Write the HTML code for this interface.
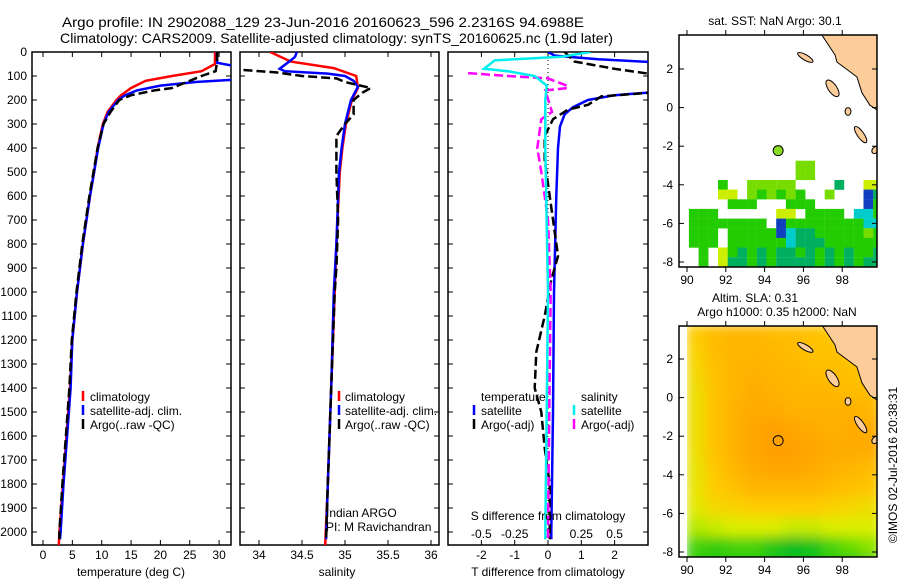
<!DOCTYPE html>
<html><head><meta charset="utf-8"><style>
body{margin:0;background:#fff}
svg{display:block}
text{font-family:"Liberation Sans",sans-serif;font-size:12px;fill:#000}
</style></head><body>
<svg id="c" width="900" height="580" xmlns="http://www.w3.org/2000/svg">
<defs>
<clipPath id="cp1"><rect x="32" y="52" width="199" height="493"/></clipPath>
<clipPath id="cp2"><rect x="240" y="52" width="199" height="493"/></clipPath>
<clipPath id="cp3"><rect x="448" y="52" width="200" height="493"/></clipPath>
<clipPath id="cm1"><rect x="679" y="35" width="198" height="232"/></clipPath>
<clipPath id="cm2"><rect x="679" y="326" width="198" height="231"/></clipPath>
<filter id="blur" x="-5%" y="-5%" width="110%" height="110%"><feGaussianBlur stdDeviation="6"/></filter>
</defs>
<text x="62" y="27" style="font-size:14px" textLength="522" lengthAdjust="spacingAndGlyphs">Argo profile: IN 2902088_129 23-Jun-2016 20160623_596 2.2316S 94.6988E</text>
<text x="60" y="43" style="font-size:14px" textLength="553" lengthAdjust="spacingAndGlyphs">Climatology: CARS2009. Satellite-adjusted climatology: synTS_20160625.nc (1.9d later)</text>
<text x="775" y="25" text-anchor="middle">sat. SST: NaN Argo: 30.1</text>
<text x="755" y="302" text-anchor="middle">Altim. SLA: 0.31</text>
<text x="777" y="316" text-anchor="middle">Argo h1000: 0.35 h2000: NaN</text>
<text transform="translate(897,465) rotate(-90)" text-anchor="middle">©IMOS 02-Jul-2016 20:38:31</text>
</svg>
<script>
// ---- data ----
const depthTicks=[0,100,200,300,400,500,600,700,800,900,1000,1100,1200,1300,1400,1500,1600,1700,1800,1900,2000];
const tempTicks=[0,5,10,15,20,25,30];
const salTicks=[34,34.5,35,35.5,36];
const tdTicks=[-2,-1,0,1,2];
const sdTicks=[-0.5,-0.25,0,0.25,0.5];
const sdTickLabels=["-0.5","-0.25","0","0.25","0.5"];
const latTicks=[2,0,-2,-4,-6,-8];
const lonTicks=[90,92,94,96,98];

const climTdep=[0,50,80,100,120,150,180,200,250,300,400,500,600,800,1000,1200,1400,1600,1800,2000,2054];
const climT=[29.3,29.3,27,22,17.5,15,13.3,12.5,11,10.2,9.3,8.7,8.0,6.8,5.8,5.0,4.6,4.0,3.4,2.8,2.7];
const satTdep=[0,45,60,115,125,140,160,180,200,250,300,400,500,600,800,1000,1200,1400,1600,1800,2000,2030];
const satT=[29.6,29.7,33,33,26,20,16,14,12.8,11.2,10.3,9.4,8.7,8.0,6.8,5.8,5.0,4.7,4.1,3.5,3.0,2.9];
const argoTdep=[0,50,80,100,120,150,160,180,200,250,300,400,500,600,800,1000,1200,1400,1600,1800,2000,2030];
const argoT=[29.7,29.6,29.4,27,25,22,19,15,13,11.5,10.3,9.3,8.6,7.9,6.7,5.7,4.9,4.5,3.9,3.3,2.8,2.8];

const climSdep=[0,40,67,100,150,200,300,400,500,800,1000,1400,1800,2054];
const climS=[34.13,34.37,34.87,35.13,35.15,35.08,35.01,34.97,34.94,34.9,34.88,34.84,34.8,34.77];
const satSdep=[0,20,40,70,80,90,100,120,145,200,300,400,500,800,1000,1400,1800,2030];
const satS=[34.44,34.42,34.35,34.24,34.3,34.8,35.0,35.1,35.15,35.07,35.0,34.96,34.93,34.9,34.87,34.84,34.8,34.78];
const argoSdep=[75,85,100,110,125,150,170,200,260,300,350,400,500,700,900,1000,1400,1800,2030];
const argoS=[33.82,34.2,34.5,34.9,35.0,35.3,35.2,35.1,35.1,35.0,34.9,34.9,34.9,34.92,34.9,34.88,34.84,34.8,34.78];

const tdSatDep=[0,15,30,45,100,167,180,200,230,260,310,400,600,1000,1500,2000,2030];
const tdSat=[0,0.2,1.5,3.5,3.5,3.2,2.0,1.2,0.75,0.5,0.36,0.3,0.25,0.18,0.15,0.1,0.1];
const tdArgoDep=[0,40,70,100,165,185,220,240,280,350,450,600,750,850,950,1100,1250,1400,1500,1650,1800,2000,2030];
const tdArgo=[0.5,0.8,2,3.5,3.5,1.6,1.2,0.6,0.15,-0.1,-0.1,0.05,0.2,0.3,0.1,-0.1,-0.35,-0.4,-0.2,-0.1,0.05,0.05,0.05];
const sdSatDep=[0,20,35,70,80,100,140,200,400,1000,1500,2000,2030];
const sdSat=[0.32,0.1,-0.4,-0.48,-0.3,-0.1,-0.01,-0.02,-0.02,0,-0.01,-0.02,-0.02];
const sdArgoDep=[88,100,110,140,150,160,250,280,400,500,700,1000,1500,2000,2030];
const sdArgo=[-0.6,-0.3,0,0.14,0.15,-0.02,0.03,-0.05,-0.08,-0.05,0,0.02,0.01,0,0];

const sstRowTops=[-2.75,-3.25,-3.75,-4.25,-4.75,-5.25,-5.75,-6.25,-6.75,-7.25,-7.75];
const sstLon0=89.6;
const sstRows=[
"............ll.......",
"............ll.......",
"....g..lllll....t..yy",
"....yy.lglglg..l...bt",
".....ggg...ggg.....bg",
".ggg......yy.gggg.ccg",
".gggggggg.bggggggggcc",
".ggg.gggggbcttggggglg",
".ggg.ggggggctttgggggg",
"..g.ygtgtgttgtgtgtggt",
"..g.yttgtgttttgtgtgtt"];
const sstColors={g:"#22cc00",l:"#77dd00",y:"#ccee00",t:"#00b060",c:"#00cccc",b:"#1040c0"};

const slaLon0=90;
const slaLatTops=[3.75,2.75,1.75,0.75,-0.25,-1.25,-2.25,-3.25,-4.25,-5.25,-6.25,-7.25];
const sla=[
[.24,.27,.28,.28,.27,.27,.26,.25,.24,.22],
[.23,.27,.28,.28,.28,.27,.26,.26,.25,.23],
[.22,.26,.28,.29,.28,.28,.27,.27,.26,.25],
[.21,.26,.28,.30,.29,.28,.28,.28,.27,.27],
[.21,.26,.29,.30,.30,.29,.29,.29,.29,.28],
[.21,.26,.29,.31,.32,.31,.30,.29,.30,.30],
[.21,.26,.29,.31,.33,.32,.31,.30,.30,.30],
[.20,.25,.28,.30,.31,.31,.30,.29,.28,.27],
[.20,.24,.26,.28,.28,.28,.28,.27,.26,.25],
[.19,.22,.23,.24,.24,.24,.24,.23,.22,.21],
[.16,.17,.18,.18,.18,.17,.17,.18,.18,.18],
[.10,.09,.10,.10,.08,.06,.07,.10,.12,.14]];

const argoLon=94.6988, argoLat=-2.2316;
const landLon=[96.86,97.63,97.73,98.76,99.02,99.43,99.79,99.9,99.9];
const landLat=[3.9,2.73,2.36,1.59,0.76,0.13,-0.12,-0.12,3.9];
const islandLon=[96.1,97.5,98.95,98.3,99.7];
const islandLat=[2.6,1.0,-1.4,-0.2,-2.2];
const islandRx=[0.45,0.5,0.5,0.15,0.15];
const islandRy=[0.14,0.22,0.17,0.2,0.2];
const islandRot=[30,55,55,0,40];

// ---- helpers ----
const svg=document.getElementById('c');
const NS="http://www.w3.org/2000/svg";
function mk(tag,attrs,parent){const e=document.createElementNS(NS,tag);for(const k in attrs)e.setAttribute(k,attrs[k]);(parent||svg).appendChild(e);return e;}
const yD=d=>52+d*0.24;
const xT=t=>43+t*5.87;
const xS=s=>259+(s-34)*86;
const xTD=t=>548+t*33.3;
const xSD=s=>548+s*133.2;
const mx=lon=>687+(lon-90)*19.4;
const my1=lat=>69+(2-lat)*19.3;
const my2=lat=>359+(2-lat)*19.3;

function line(xs,ds,fx,col,dash,clip,name){
  const pts=xs.map((v,i)=>fx(v).toFixed(1)+","+yD(ds[i]).toFixed(1)).join(" ");
  const p=mk('polyline',{points:pts,fill:"none",stroke:col,"stroke-width":2.5,"clip-path":"url(#"+clip+")"});
  if(dash)p.setAttribute('stroke-dasharray',dash);
  
  
}
function panel(x0,x1,name){
  const r=mk('rect',{x:x0,y:52,width:x1-x0,height:493,fill:"none",stroke:"#000","stroke-width":1.5});
  
  
  depthTicks.forEach(d=>{
    mk('line',{x1:x0,x2:x0+5,y1:yD(d),y2:yD(d),stroke:"#000"});
    mk('line',{x1:x1-5,x2:x1,y1:yD(d),y2:yD(d),stroke:"#000"});
  });
}
function xticks(vals,fx,labels,ly,name){
  vals.forEach((v,i)=>{
    const x=fx(v);
    mk('line',{x1:x,x2:x,y1:52,y2:57,stroke:"#000"});
    mk('line',{x1:x,x2:x,y1:540,y2:545,stroke:"#000"});
    const t=mk('text',{x:x,y:ly,"text-anchor":"middle"});
    t.textContent=labels?labels[i]:String(v);
    
    
  });
}
function txt(x,y,s,name,anchor){const t=mk('text',{x:x,y:y});if(anchor)t.setAttribute('text-anchor',anchor);t.textContent=s;return t;}
function legBar(x,y,col){mk('line',{x1:x,x2:x,y1:y-10,y2:y,stroke:col,"stroke-width":2.5});}

depthTicks.forEach(d=>{ txt(27,yD(d)+4,String(d),'depth-tick-label','end'); });

// panel 1
panel(32,231,'temperature-panel');
xticks(tempTicks,xT,null,559,'temperature-tick-label');
line(climT,climTdep,xT,"#ff0000",null,"cp1",'temp-climatology-line');
line(satT,satTdep,xT,"#0000ff",null,"cp1",'temp-satellite-line');
line(argoT,argoTdep,xT,"#000000","9,4","cp1",'temp-argo-line');
txt(131,576,"temperature (deg C)",'temperature-axis-title','middle');
legBar(83,401,"#f00");legBar(83,415,"#00f");legBar(83,429,"#000");
txt(90,401,"climatology",'legend-climatology');
txt(90,415,"satellite-adj. clim.",'legend-satellite');
txt(90,429,"Argo(..raw -QC)",'legend-argo');

// panel 2
panel(240,439,'salinity-panel');
xticks(salTicks,xS,null,559,'salinity-tick-label');
line(climS,climSdep,xS,"#ff0000",null,"cp2",'sal-climatology-line');
line(satS,satSdep,xS,"#0000ff",null,"cp2",'sal-satellite-line');
line(argoS,argoSdep,xS,"#000000","9,4","cp2",'sal-argo-line');
txt(337,576,"salinity",'salinity-axis-title','middle');
legBar(339,401,"#f00");legBar(339,415,"#00f");legBar(339,429,"#000");
txt(345,401,"climatology",'legend-climatology-2');
txt(345,415,"satellite-adj. clim.",'legend-satellite-2');
txt(345,429,"Argo(..raw -QC)",'legend-argo-2');
txt(326,517,"Indian ARGO",'float-agency');
txt(326,531,"PI: M Ravichandran",'float-pi');

// panel 3
panel(448,648,'difference-panel');
mk('line',{x1:548,x2:548,y1:52,y2:545,stroke:"#000","stroke-dasharray":"1,3"});
xticks(tdTicks,xTD,null,559,'t-diff-tick-label');
sdTicks.forEach((v,i)=>{txt(xSD(v),538,sdTickLabels[i],'s-diff-tick-label','middle');});
line(tdSat,tdSatDep,xTD,"#0000ff",null,"cp3",'tdiff-satellite-line');
line(tdArgo,tdArgoDep,xTD,"#000000","9,4","cp3",'tdiff-argo-line');
line(sdArgo,sdArgoDep,xSD,"#ff00ff","9,4","cp3",'sdiff-argo-line');
line(sdSat,sdSatDep,xSD,"#00eeee",null,"cp3",'sdiff-satellite-line');
txt(548,520,"S difference from climatology",'s-diff-axis-title','middle');
txt(548,576,"T difference from climatology",'t-diff-axis-title','middle');
txt(481,401,"temperature",'legend-temperature-header');
txt(581,401,"salinity",'legend-salinity-header');
legBar(474,415,"#00f");legBar(474,429,"#000");legBar(574,415,"#0ee");legBar(574,429,"#f0f");
txt(481,415,"satellite",'legend-t-satellite');
txt(481,429,"Argo(-adj)",'legend-t-argo');
txt(581,415,"satellite",'legend-s-satellite');
txt(581,429,"Argo(-adj)",'legend-s-argo');

// maps
function drawLand(my,clip){
  const g=mk('g',{"clip-path":"url(#"+clip+")"});
  const pts=landLon.map((l,i)=>mx(l).toFixed(1)+","+my(landLat[i]).toFixed(1)).join(" ");
  const p=mk('polygon',{points:pts,fill:"#fccc99",stroke:"#000","stroke-width":1},g);
  
  
  islandLon.forEach((l,i)=>{
    const cx=mx(l), cy=my(islandLat[i]);
    const e=mk('ellipse',{cx:cx,cy:cy,rx:islandRx[i]*19.4,ry:islandRy[i]*19.3,fill:"#fccc99",stroke:"#000",transform:"rotate("+islandRot[i]+" "+cx+" "+cy+")"},g);
    
    
  });
}
function mapAxes(y0,y1,my,name){
  const r=mk('rect',{x:679,y:y0,width:198,height:y1-y0,fill:"none",stroke:"#000","stroke-width":1.5});
  
  
  latTicks.forEach(l=>{
    const y=my(l);
    mk('line',{x1:679,x2:684,y1:y,y2:y,stroke:"#000"});
    mk('line',{x1:872,x2:877,y1:y,y2:y,stroke:"#000"});
    txt(673,y+4,String(l),'lat-tick-label','end');
  });
  lonTicks.forEach(l=>{
    const x=mx(l);
    mk('line',{x1:x,x2:x,y1:y0-5,y2:y0,stroke:"#000"});
    mk('line',{x1:x,x2:x,y1:y1,y2:y1+5,stroke:"#000"});
    txt(x,y1+17,String(l),'lon-tick-label','middle');
  });
}
// SST map
const g1=mk('g',{"clip-path":"url(#cm1)"});
sstRows.forEach((row,r)=>{
  for(let c=0;c<row.length;c++){
    const ch=row[c]; if(ch==='.')continue;
    const x=mx(sstLon0+c*0.5), y=my1(sstRowTops[r]);
    const e=mk('rect',{x:x.toFixed(1),y:y.toFixed(1),width:9.8,height:9.8,fill:sstColors[ch]},g1);
    
    
  }
});
drawLand(my1,'cm1');
mapAxes(35,267,my1,'sst-map');
const d1=mk('circle',{cx:mx(argoLon),cy:my1(argoLat),r:5,fill:"#88dd22",stroke:"#000"});



// SLA map
function slaColor(v){
  const stops=[[0.06,[0,187,34]],[0.12,[102,221,0]],[0.18,[221,238,0]],[0.24,[255,204,0]],[0.32,[255,160,0]]];
  if(v<=stops[0][0])return "rgb("+stops[0][1]+")";
  for(let i=1;i<stops.length;i++){if(v<=stops[i][0]){const f=(v-stops[i-1][0])/(stops[i][0]-stops[i-1][0]);const a=stops[i-1][1],b=stops[i][1];return "rgb("+a.map((x,k)=>Math.round(x+(b[k]-x)*f)).join(",")+")";}}
  return "rgb(255,160,0)";
}
const g2o=mk('g',{"clip-path":"url(#cm2)"});
const g2c=mk('clipPath',{id:"cm2b"});mk('rect',{x:687,y:326,width:190,height:231},g2c);
const g2w=mk('g',{"clip-path":"url(#cm2b)"},g2o);
const g2i=mk('g',{filter:"url(#blur)"},g2w);
sla.forEach((row,r)=>{
  row.forEach((v,c)=>{
    const x=mx(slaLon0+c), y=my2(slaLatTops[r]);
    const e=mk('rect',{x:(x-1).toFixed(1),y:(y-1).toFixed(1),width:21.5,height:21.5,fill:slaColor(v)},g2i);
    
    
  });
});
mk('rect',{x:687,y:my2(-8.25),width:190,height:25,fill:slaColor(0.08)},g2i);
drawLand(my2,'cm2');
mapAxes(326,557,my2,'sla-map');
const d2=mk('circle',{cx:mx(argoLon),cy:my2(argoLat),r:5,fill:"none",stroke:"#000"});


</script>
</body></html>
